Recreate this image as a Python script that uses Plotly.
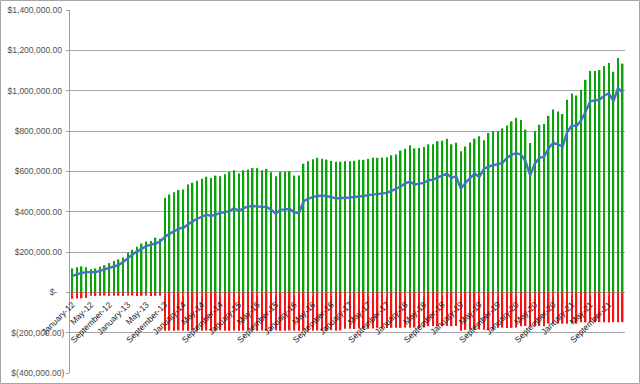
import plotly.graph_objects as go

MONTH_NAMES = ["January", "February", "March", "April", "May", "June", "July",
               "August", "September", "October", "November", "December"]
YEARS = [12, 13, 14, 15, 16, 17, 18, 19, 20, 21]
categories = [f"{m}-{y:02d}" for y in YEARS for m in MONTH_NAMES]

# Positive (green) bars, in thousands of dollars
green_k = [119, 124, 129, 124, 114, 119, 127, 134, 145, 155, 163, 173,
           196, 211, 226, 242, 252, 254, 271, 266, 469, 485, 496, 507,
           510, 535, 543, 553, 563, 573, 567, 579, 576, 585, 597, 605,
           589, 605, 609, 616, 616, 605, 612, 595, 575, 598, 598, 600,
           579, 579, 638, 650, 660, 667, 662, 658, 652, 648, 648, 650,
           650, 652, 657, 657, 662, 667, 667, 668, 670, 680, 684, 703,
           712, 729, 714, 716, 721, 734, 734, 749, 752, 761, 734, 742,
           700, 723, 743, 762, 774, 754, 790, 799, 800, 813, 827, 848,
           865, 855, 807, 741, 800, 831, 835, 875, 907, 897, 884, 955,
           986, 976, 1005, 1054, 1098, 1098, 1102, 1122, 1137, 1094, 1162, 1134]

# Negative (red) bars, in thousands of dollars
red_k = [-32, -31, -30, -28, -17, -18, -17, -16, -18, -17, -17, -18,
         -17, -16, -18, -17, -17, -18, -17, -17, -191, -190, -191, -189,
         -190, -191, -188, -190, -191, -189, -190, -191, -188, -190, -190, -189,
         -191, -190, -188, -190, -191, -189, -190, -190, -188, -191, -190, -189,
         -190, -191, -188, -190, -190, -189, -191, -190, -188, -190, -189, -181,
         -180, -182, -179, -180, -181, -179, -176, -175, -177, -176, -175, -176,
         -175, -176, -175, -177, -174, -168, -167, -169, -168, -167, -168, -167,
         -191, -186, -185, -186, -184, -185, -186, -185, -176, -175, -177, -176,
         -175, -168, -167, -169, -168, -167, -168, -155, -156, -154, -155, -156,
         -154, -155, -148, -149, -147, -148, -147, -148, -149, -147, -148, -147]

# Blue line, in thousands of dollars
line_k = [82, 90, 96, 100, 99, 100, 106, 112, 121, 128, 135, 150,
          170, 188, 203, 217, 229, 237, 242, 252, 275, 290, 303, 316,
          320, 338, 352, 365, 376, 385, 379, 388, 393, 398, 403, 417,
          403, 418, 425, 428, 425, 424, 423, 410, 390, 410, 411, 414,
          396, 394, 450, 465, 472, 478, 480, 478, 473, 465, 468, 469,
          470, 472, 474, 478, 482, 485, 488, 490, 493, 503, 512, 525,
          540, 549, 535, 538, 543, 556, 559, 570, 580, 589, 568, 576,
          513, 543, 566, 589, 572, 612, 624, 629, 634, 642, 667, 683,
          690, 683, 650, 580, 638, 667, 672, 715, 742, 733, 724, 795,
          827, 825, 852, 897, 947, 951, 955, 975, 987, 948, 1013, 989]

y_tickvals = [-400000, -200000, 0, 200000, 400000, 600000, 800000, 1000000, 1200000, 1400000]
y_ticktext = ["$(400,000.00)", "$(200,000.00)", "$-\u00a0\u00a0\u00a0", "$200,000.00\u00a0",
              "$400,000.00\u00a0", "$600,000.00\u00a0", "$800,000.00\u00a0",
              "$1,000,000.00\u00a0", "$1,200,000.00\u00a0", "$1,400,000.00\u00a0"]

green = [v * 1000 for v in green_k]
red = [v * 1000 for v in red_k]
line = [v * 1000 for v in line_k]

Y_MIN, Y_MAX = y_tickvals[0], y_tickvals[-1]

fig = go.Figure()
fig.add_trace(go.Bar(x=categories, y=green, marker=dict(color="#0aa30a", line=dict(width=0)),
                     showlegend=False))
fig.add_trace(go.Bar(x=categories, y=red, marker=dict(color="#ff1010", line=dict(width=0)),
                     showlegend=False))
fig.add_trace(go.Scatter(x=categories, y=line, mode="lines",
                         line=dict(color="#4472c4", width=2.4), showlegend=False))

W, H = 640, 384
ML, MR, MT, MB = 70, 15, 10, 11
pw, ph = W - ML - MR, H - MT - MB

LABEL_FONT = "Liberation Sans, Arial, sans-serif"

fig.update_layout(
    width=W, height=H,
    margin=dict(l=ML, r=MR, t=MT, b=MB, pad=0, autoexpand=False),
    paper_bgcolor="white", plot_bgcolor="white",
    barmode="relative", bargap=0.66,
    font=dict(family=LABEL_FONT, size=8.5, color="#404040"),
    xaxis=dict(
        type="category",
        range=[-0.5, len(categories) - 0.5],
        tickvals=categories[::4], ticktext=categories[::4],
        tickangle=-45,
        anchor="free",
        position=(0 - Y_MIN) / (Y_MAX - Y_MIN),
        automargin=False,
        showgrid=False, zeroline=False, showline=False,
        ticks="outside", ticklen=3, tickcolor="rgba(150,150,150,0.6)",
        tickfont=dict(family=LABEL_FONT, size=8.5, color="#202020"),
    ),
    yaxis=dict(
        range=[Y_MIN, Y_MAX],
        tickvals=y_tickvals, ticktext=y_ticktext,
        automargin=False,
        showgrid=True, gridcolor="#a8a8a8", gridwidth=1,
        zeroline=False,
        showline=True, linecolor="#a0a0a0", linewidth=1,
        ticks="outside", ticklen=3, tickcolor="#a0a0a0",
        tickfont=dict(family=LABEL_FONT, size=8.5, color="#505050"),
    ),
    shapes=[dict(
        type="rect", xref="paper", yref="paper",
        x0=(0.5 - ML) / pw, x1=(W - 0.5 - ML) / pw,
        y0=(H - MB - (H - 0.5)) / ph, y1=(H - MB - 0.5) / ph,
        line=dict(color="#a6a6a6", width=1), fillcolor="rgba(0,0,0,0)", layer="above",
    )],
)

fig.write_html(
    "out.html",
    config={"displayModeBar": False},
    post_script="document.body.style.margin='0';document.body.style.overflow='hidden';",
)
